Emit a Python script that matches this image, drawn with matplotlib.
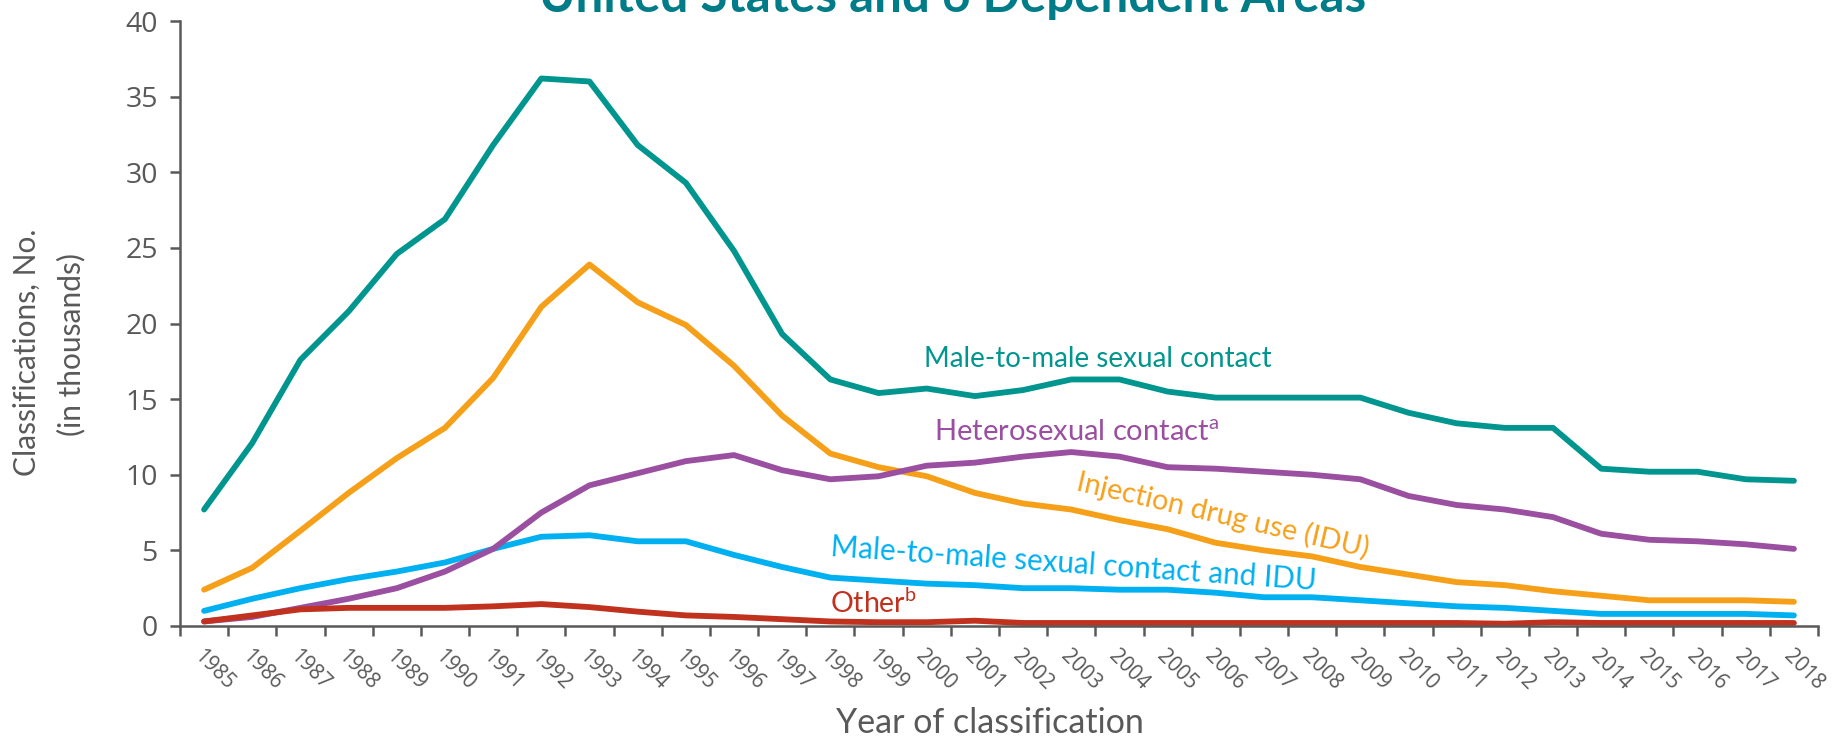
import matplotlib

matplotlib.use("Agg")
import matplotlib.pyplot as plt  # noqa: E402

plt.rcParams.update(
    {
        "font.family": ["Lato", "DejaVu Sans"],
        "mathtext.fontset": "custom",
        "mathtext.rm": "Lato",
        "mathtext.it": "Lato",
    }
)

years = [str(y) for y in range(1985, 2019)]
msm = [7.7, 12.1, 17.6, 20.8, 24.6, 26.9, 31.8, 36.2, 36.0, 31.8, 29.3, 24.8,
       19.3, 16.3, 15.4, 15.7, 15.2, 15.6, 16.3, 16.3, 15.5, 15.1, 15.1, 15.1,
       15.1, 14.1, 13.4, 13.1, 13.1, 10.4, 10.2, 10.2, 9.7, 9.6]
idu = [2.4, 3.85, 6.3, 8.8, 11.1, 13.1, 16.4, 21.1, 23.9, 21.4, 19.9, 17.2,
       13.9, 11.4, 10.5, 9.9, 8.8, 8.1, 7.7, 7.0, 6.4, 5.5, 5.0, 4.6, 3.9, 3.4,
       2.9, 2.7, 2.3, 2.0, 1.7, 1.7, 1.7, 1.6]
msm_idu = [1.0, 1.8, 2.5, 3.1, 3.6, 4.2, 5.1, 5.9, 6.0, 5.6, 5.6, 4.7, 3.9, 3.2,
           3.0, 2.8, 2.7, 2.5, 2.5, 2.4, 2.4, 2.2, 1.9, 1.9, 1.7, 1.5, 1.3, 1.2,
           1.0, 0.8, 0.8, 0.8, 0.8, 0.7]
hetero = [0.3, 0.6, 1.2, 1.8, 2.5, 3.6, 5.1, 7.5, 9.3, 10.1, 10.9, 11.3, 10.3,
          9.7, 9.9, 10.6, 10.8, 11.2, 11.5, 11.2, 10.5, 10.4, 10.2, 10.0, 9.7,
          8.6, 8.0, 7.7, 7.2, 6.1, 5.7, 5.6, 5.4, 5.1]
other = [0.3, 0.7, 1.1, 1.2, 1.2, 1.2, 1.3, 1.45, 1.25, 0.95, 0.7, 0.6, 0.45,
         0.3, 0.25, 0.25, 0.35, 0.2, 0.2, 0.2, 0.2, 0.2, 0.2, 0.2, 0.2, 0.2,
         0.2, 0.15, 0.25, 0.2, 0.2, 0.2, 0.2, 0.2]

TEAL, ORANGE, BLUE = "#00968F", "#F6A01A", "#00B0F0"
PURPLE, RED, GRAY = "#9A4FA0", "#C0311E", "#595959"
W, H = 1835, 737

fig = plt.figure(figsize=(W / 100, H / 100), dpi=100)
ax = fig.add_axes([180 / W, 1 - 626 / H, (1818 - 180) / W, (626 - 21) / H])

x = list(range(len(years)))
for vals, color in [(msm, TEAL), (idu, ORANGE), (msm_idu, BLUE),
                    (hetero, PURPLE), (other, RED)]:
    ax.plot(x, vals, color=color, lw=4.2, solid_capstyle="round",
            solid_joinstyle="round")

ax.set_xlim(-0.5, len(years) - 0.5)
ax.set_ylim(0, 40)
ax.set_yticks(range(0, 41, 5))
ax.set_xticks([i - 0.5 for i in range(len(years) + 1)])
ax.set_xticklabels([])
ax.set_xticks(x, minor=True)
ax.set_xticklabels(years, minor=True, rotation=-45, ha="left", va="top",
                   rotation_mode="anchor", fontsize=15, color=GRAY,
                   family="Open Sans")
ax.tick_params(axis="x", which="major", length=7, width=1.8, color=GRAY)
ax.tick_params(axis="x", which="minor", length=0, pad=14)
ax.tick_params(axis="y", length=7, width=1.8, color=GRAY, pad=9,
               labelsize=20.5, labelcolor=GRAY)
for lab in ax.get_yticklabels():
    lab.set_family("Open Sans")
for side in ["top", "right"]:
    ax.spines[side].set_visible(False)
for side in ["left", "bottom"]:
    ax.spines[side].set_color(GRAY)
    ax.spines[side].set_linewidth(1.8)

# axis titles placed in figure pixels, as in the original slide
fig.text(27 / W, 1 - 352 / H, "Classifications, No.", rotation=90, fontsize=21.5,
         color=GRAY, ha="center", va="center")
fig.text(71 / W, 1 - 345 / H, "(in thousands)", rotation=90, fontsize=21.5,
         color=GRAY, ha="center", va="center")
fig.text(990 / W, 1 - 733 / H, "Year of classification", fontsize=24.5,
         color=GRAY, ha="center", va="baseline")

ax.text(18.55, 17.65, "Male-to-male sexual contact", color=TEAL, fontsize=20,
        ha="center", va="center")
ax.text(15.15, 12.3, r"Heterosexual contact$^{\mathrm{a}}$", color=PURPLE,
        fontsize=21, ha="left", va="baseline")
ax.text(21.15, 7.3, "Injection drug use (IDU)", color=ORANGE, fontsize=20.7,
        ha="center", va="center", rotation=-13)
ax.text(18.05, 4.1, "Male-to-male sexual contact and IDU", color=BLUE,
        fontsize=21.3, ha="center", va="center", rotation=-4)
ax.text(13.0, 0.86, r"Other$^{\mathrm{b}}$", color=RED, fontsize=20.5,
        ha="left", va="baseline")

fig.text(953 / W, 1 - 12 / H, "United States and 6 Dependent Areas",
         color="#007C89", fontsize=35.5, fontweight="bold", ha="center",
         va="baseline")

fig.savefig("out.png", dpi=100)
